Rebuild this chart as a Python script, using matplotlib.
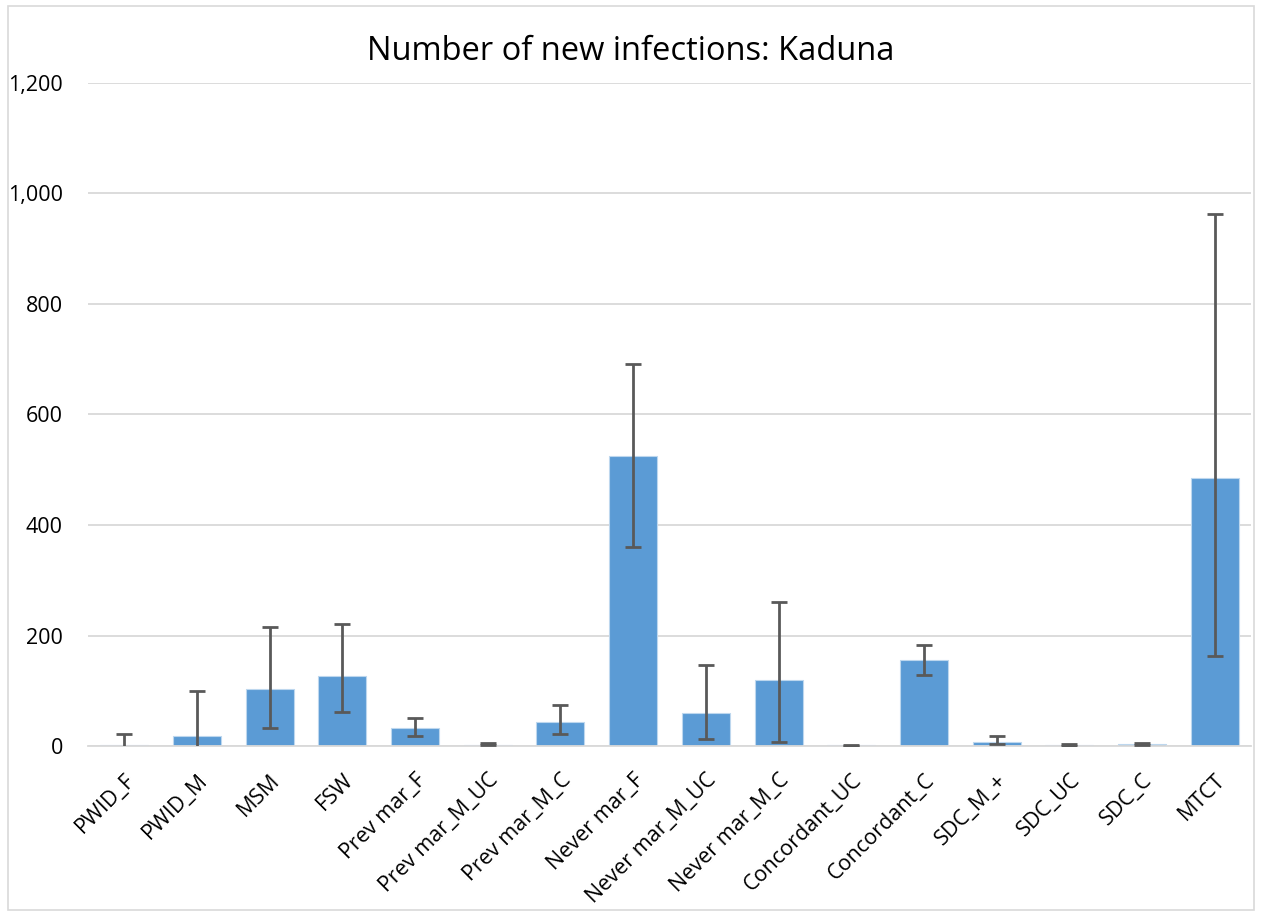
import matplotlib.pyplot as plt
import numpy as np
from matplotlib.patches import Rectangle

plt.rcParams['font.family'] = ['Open Sans', 'DejaVu Sans']

# categories and values
groups = ["PWID_F", "PWID_M", "MSM", "FSW", "Prev mar_F", "Prev mar_M_UC",
          "Prev mar_M_C", "Never mar_F", "Never mar_M_UC", "Never mar_M_C",
          "Concordant_UC", "Concordant_C", "SDC_M_+", "SDC_UC", "SDC_C", "MTCT"]
infections = [1, 18, 103, 127, 32, 2, 44, 524, 60, 119, 1, 155, 8, 1, 3, 485]
upper = [22, 100, 215, 221, 51, 6, 75, 692, 146, 261, 2, 183, 18, 3, 6, 962]
lower = [-20, -20, 32, 61, 19, 1, 21, 361, 12, 7, 0.5, 128, 3, 0.5, 1, 163]

vals = np.array(infections, dtype=float)
err = np.array([vals - np.array(lower), np.array(upper) - vals])
x = np.arange(len(groups))

fig = plt.figure(figsize=(12.62, 9.16), dpi=100)
ax = fig.add_axes([88/1262, 1 - 746/916, (1251 - 88)/1262, (746 - 83)/916])

# outer chart border
fig.patches.append(Rectangle((8/1262, 6/916), 1246/1262, 904/916, transform=fig.transFigure,
                             fill=False, edgecolor='#D9D9D9', linewidth=1.2))

ax.bar(x, vals, width=0.66, color='#5B9BD5', edgecolor='#BDD7EE', linewidth=0.8, zorder=2)
ax.errorbar(x, vals, yerr=err, fmt='none', ecolor='#595959', elinewidth=2,
            capsize=5.5, capthick=2, zorder=3)

ax.set_xlim(-0.5, len(groups) - 0.5)
ax.set_ylim(0, 1200)
ax.set_yticks(np.arange(0, 1201, 200))
ax.set_yticklabels([f"{v:,}" for v in range(0, 1201, 200)], fontsize=15.5)
ax.set_xticks(x)
ax.set_xticklabels(groups, rotation=45, ha='right', rotation_mode='anchor', fontsize=15.5)
ax.tick_params(axis='both', length=0)
ax.tick_params(axis='y', pad=18)
ax.tick_params(axis='x', pad=17)

ax.grid(axis='y', color='#D9D9D9', linewidth=1.3, zorder=0)
ax.set_axisbelow(True)
for s in ['top', 'right', 'left']:
    ax.spines[s].set_visible(False)
ax.spines['bottom'].set_color('#D9D9D9')
ax.spines['bottom'].set_linewidth(1.3)

fig.text(0.5, 1 - 52/916, "Number of new infections: Kaduna", ha='center', va='center',
         fontsize=23.5, color='#000000')

fig.savefig("out.png", dpi=100)
